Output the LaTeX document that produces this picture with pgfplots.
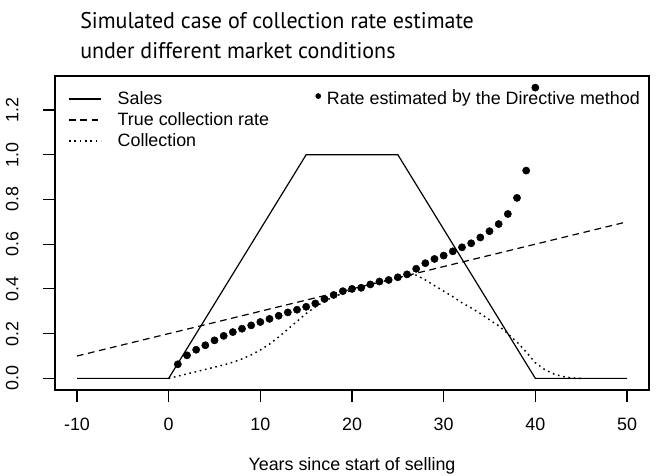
\documentclass[border=0pt]{standalone}
\usepackage{fontspec}
\setmainfont{Liberation Sans}
\newfontfamily\titlefont[FakeStretch=0.97]{PT Sans}
\usepackage{pgfplots}
\pgfplotsset{compat=1.18}

\begin{document}
\begin{tikzpicture}
\path[use as bounding box] (-41.25pt,-63.75pt) rectangle (451.5pt,292.5pt);
\begin{axis}[
  scale only axis, width=445.5pt, height=235.5pt,
  xmin=-12.4, xmax=52.4, ymin=-0.052, ymax=1.352,
  axis line style={line width=0.8pt},
  tick style={line width=0.8pt, black},
  tick align=outside, major tick length=9pt,
  tick pos=left,
  xtick={-10,0,10,20,30,40,50},
  ytick={0,0.2,0.4,0.6,0.8,1.0,1.2},
  /pgf/number format/assume math mode=true,
  yticklabel={\pgfmathprintnumber[fixed,fixed zerofill,precision=1]{\tick}},
  ticklabel style={font=\fontsize{13.4}{15}\selectfont},
  yticklabel style={rotate=90, anchor=base},
  xticklabel style={anchor=base},
  yticklabel shift=18.5pt,
  xticklabel shift=21.5pt,
  xlabel={Years since start of selling},
  xlabel style={font=\fontsize{13.4}{15}\selectfont, at={(axis description cs:0.5,0)}, anchor=base, yshift=-60pt},
  legend cell align=left,
  legend image code/.code={\draw[#1] (0pt,0.7pt) -- (24pt,0.7pt);},
  legend style={draw=none, fill=none, at={(axis description cs:0,1)}, anchor=north west,
    xshift=9.75pt, yshift=-11.7pt, inner sep=0pt,
    font=\fontsize{13.4}{15}\selectfont,
    nodes={inner sep=0pt, text height=9.5pt, text depth=2.5pt},
    row sep=3.75pt,
    /tikz/every odd column/.append style={column sep=12pt}},
]
\addplot[black, line width=0.9pt] coordinates {(-10,0) (0,0) (15,1) (25,1) (40,0) (50,0)};
\addlegendentry{Sales}
\addplot[black, line width=0.9pt, dash pattern=on 5pt off 3.5pt] coordinates {(-10,0.1) (50,0.7)};
\addlegendentry{True collection rate}
\addplot[black, line width=1.1pt, dash pattern=on 1.2pt off 2.8pt] coordinates {
(0,0) (1,0.01) (2,0.02) (3,0.03) (4,0.04) (5,0.05) (6,0.06) (7,0.072) (8,0.087) (9,0.105)
(10,0.127) (11,0.153) (12,0.185) (13,0.22) (14,0.255) (15,0.29) (16,0.32) (17,0.345) (18,0.365) (19,0.38)
(20,0.395) (21,0.405) (22,0.42) (23,0.43) (24,0.44) (25,0.45) (26,0.46) (27,0.462) (28,0.44) (29,0.415)
(30,0.39) (31,0.365) (32,0.338) (33,0.315) (34,0.29) (35,0.262) (36,0.235) (37,0.2) (38,0.162) (39,0.118)
(40,0.07) (41,0.04) (42,0.02) (43,0.008) (44,0.002) (45,0)};
\addlegendentry{Collection}
\end{axis}
\begin{axis}[
  scale only axis, width=445.5pt, height=235.5pt,
  xmin=-12.4, xmax=52.4, ymin=-0.052, ymax=1.352,
  hide axis,
  legend image code/.code={\fill (0pt,2.85pt) circle (1.9pt);},
  legend style={draw=none, fill=none, at={(axis description cs:1,1)}, anchor=north east,
    xshift=-6.75pt, yshift=-11.7pt, inner sep=0pt,
    font=\fontsize{13.4}{15}\selectfont,
    nodes={inner sep=0pt, text height=9.5pt, text depth=2.5pt},
    /tikz/every odd column/.append style={column sep=4.4pt}},
]
\addplot[black, only marks, mark=*, mark size=2.7pt] coordinates {
(1,0.063) (2,0.103) (3,0.128) (4,0.148) (5,0.170) (6,0.190) (7,0.207) (8,0.222) (9,0.237) (10,0.252)
(11,0.266) (12,0.280) (13,0.295) (14,0.307) (15,0.320) (16,0.335) (17,0.355) (18,0.373) (19,0.39) (20,0.40)
(21,0.405) (22,0.42) (23,0.433) (24,0.44) (25,0.452) (26,0.465) (27,0.49) (28,0.515) (29,0.534) (30,0.549)
(31,0.568) (32,0.586) (33,0.604) (34,0.630) (35,0.658) (36,0.69) (37,0.735) (38,0.807) (39,0.929) (40,1.30)};
\addlegendentry{Rate estimated \raisebox{1.2pt}{by} the Directive method}
\end{axis}
\node[anchor=base west, font=\titlefont\fontsize{17}{20}\selectfont, inner sep=0pt] at (18.75pt,270.75pt) {Simulated case of collection rate estimate};
\node[anchor=base west, font=\titlefont\fontsize{17}{20}\selectfont, inner sep=0pt] at (18.75pt,248.8pt) {under different market conditions};
\end{tikzpicture}
\end{document}
